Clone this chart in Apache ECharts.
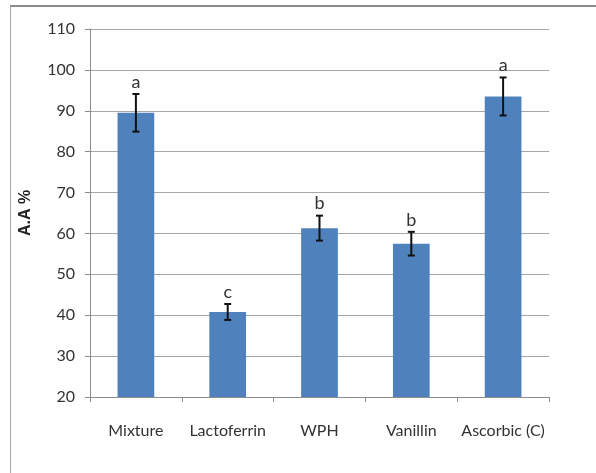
<!DOCTYPE html>
<html>
<head>
<meta charset="utf-8">
<script src="https://cdn.jsdelivr.net/npm/echarts@6/dist/echarts.min.js"></script>
<style>html,body{margin:0;padding:0;background:#fff;}#c{width:596px;height:473px;}</style>
</head>
<body>
<div id="c"></div>
<script>
var categories = ['Mixture', 'Lactoferrin', 'WPH', 'Vanillin', 'Ascorbic (C)'];
var means = [89.5, 40.8, 61.3, 57.5, 93.5];
var errors = [4.6, 1.95, 3.05, 2.9, 4.65];
var letters = ['a', 'c', 'b', 'b', 'a'];
var yTicks = [20, 30, 40, 50, 60, 70, 80, 90, 100, 110];

var chart = echarts.init(document.getElementById('c'));
var errData = categories.map(function (c, i) { return [i, means[i] - errors[i], means[i] + errors[i], letters[i]]; });
var FONT = 'Lato';
chart.setOption({
  animation: false,
  graphic: [
    { type: 'line', shape: { x1: 10, y1: 6, x2: 596, y2: 6 }, style: { stroke: '#8a8a8a', lineWidth: 2 } },
    { type: 'line', shape: { x1: 10.5, y1: 6, x2: 10.5, y2: 473 }, style: { stroke: '#a8a8a8', lineWidth: 1 } }
  ],
  grid: { left: 90, right: 47, top: 29, bottom: 76 },
  xAxis: {
    type: 'category',
    data: categories,
    axisLine: { lineStyle: { color: '#8c8c8c' } },
    axisTick: { show: true, length: 5, lineStyle: { color: '#8c8c8c' } },
    axisLabel: { interval: 0, margin: 26, color: '#333', fontFamily: FONT, fontSize: 16 }
  },
  yAxis: {
    type: 'value',
    min: yTicks[0], max: yTicks[yTicks.length - 1], interval: 10,
    name: 'A.A %',
    nameLocation: 'middle',
    nameGap: 56,
    nameTextStyle: { fontFamily: 'Liberation Sans', fontWeight: 'bold', fontSize: 16, color: '#222' },
    axisLine: { show: true, lineStyle: { color: '#8c8c8c' } },
    axisTick: { show: true, length: 5, lineStyle: { color: '#8c8c8c' } },
    axisLabel: { margin: 15, color: '#333', fontFamily: FONT, fontSize: 16 },
    splitLine: { lineStyle: { color: '#a6a6a6' } }
  },
  series: [
    {
      type: 'bar',
      data: means,
      barWidth: '40%',
      itemStyle: { color: '#4f81bd' }
    },
    {
      type: 'custom',
      data: errData,
      z: 10,
      renderItem: function (params, api) {
        var x = api.value(0);
        var lo = api.coord([x, api.value(1)]);
        var hi = api.coord([x, api.value(2)]);
        var cap = 3.5;
        var st = { stroke: '#111', lineWidth: 2 };
        return {
          type: 'group',
          children: [
            { type: 'line', shape: { x1: lo[0], y1: lo[1], x2: hi[0], y2: hi[1] }, style: st },
            { type: 'line', shape: { x1: lo[0] - cap, y1: lo[1], x2: lo[0] + cap, y2: lo[1] }, style: st },
            { type: 'line', shape: { x1: hi[0] - cap, y1: hi[1], x2: hi[0] + cap, y2: hi[1] }, style: st },
            { type: 'text', style: { text: letters[params.dataIndex], x: hi[0], y: hi[1] - 3, align: 'center', verticalAlign: 'bottom', fontFamily: FONT, fontSize: 18, fill: '#333' } }
          ]
        };
      }
    }
  ]
});
</script>
</body>
</html>
